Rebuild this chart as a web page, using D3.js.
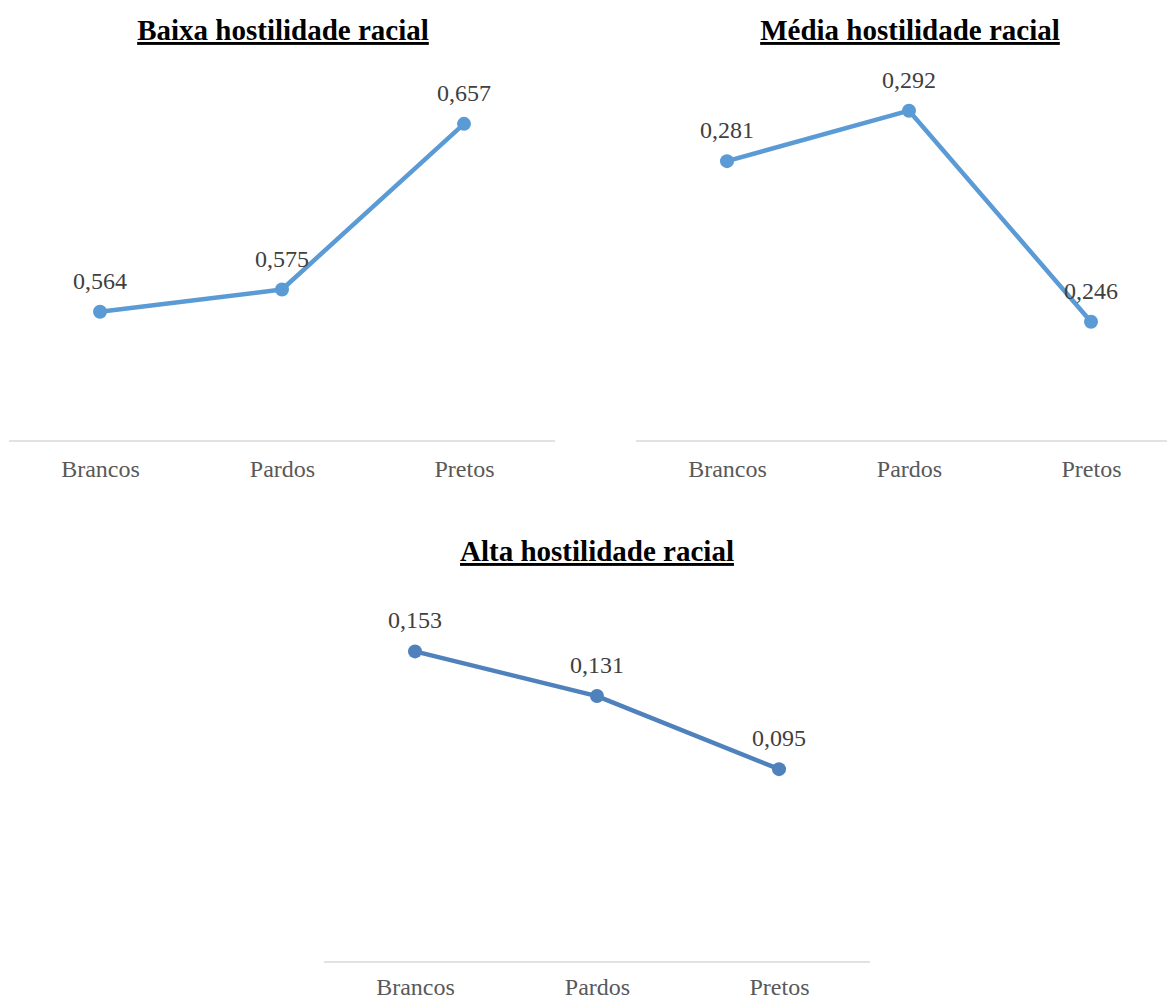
<!DOCTYPE html>
<html><head><meta charset="utf-8">
<script src="https://cdn.jsdelivr.net/npm/d3@7"></script>
<style>body{margin:0;background:#fff}svg{display:block}</style>
</head><body>
<svg id="c" width="1167" height="1001"></svg>
<script>
const categories = ["Brancos", "Pardos", "Pretos"];
const titles = ["Baixa hostilidade racial", "Média hostilidade racial", "Alta hostilidade racial"];
const baixaValues = [0.564, 0.575, 0.657];
const mediaValues = [0.281, 0.292, 0.246];
const altaValues = [0.153, 0.131, 0.095];
const yDomains = [[0.5, 0.7], [0.22, 0.30], [0, 0.2]];

const panels = [
  {title: titles[0], values: baixaValues, dom: yDomains[0], x0: 9, x1: 555, lineEnd: 555, axisY: 441, yTopPx: 37, titleX: 283, titleY: 40, color: "#5B9BD5", catY: 36},
  {title: titles[1], values: mediaValues, dom: yDomains[1], x0: 636, x1: 1182, lineEnd: 1167, axisY: 441, yTopPx: 74, titleX: 910, titleY: 40, color: "#5B9BD5", catY: 36},
  {title: titles[2], values: altaValues, dom: yDomains[2], x0: 324, x1: 870, lineEnd: 870, axisY: 962, yTopPx: 556, titleX: 597, titleY: 561, color: "#4F81BD", catY: 33}
];

const svg = d3.select("#c");
const serif = "'Liberation Serif','Times New Roman',serif";

panels.forEach(p => {
  const g = svg.append("g");
  const x = d3.scalePoint().domain(categories).range([p.x0, p.x1]).padding(0.5);
  const y = d3.scaleLinear().domain(p.dom).range([p.axisY, p.yTopPx]);

  g.append("text").attr("x", p.titleX).attr("y", p.titleY)
    .attr("text-anchor", "middle").attr("font-family", serif)
    .attr("font-size", 29).attr("font-weight", "bold").attr("fill", "#000")
    .attr("text-decoration", "underline").text(p.title);

  const ax = g.append("g").attr("transform", `translate(0,${p.axisY})`)
    .call(d3.axisBottom(x).tickSize(0));
  ax.select(".domain").attr("stroke", "#D9D9D9").attr("stroke-width", 1.5)
    .attr("d", `M${p.x0},0H${p.lineEnd}`);
  ax.selectAll(".tick text").attr("font-family", serif).attr("font-size", 24)
    .attr("fill", "#595959").attr("y", p.catY).attr("dy", 0);

  const data = categories.map((c, i) => ({c, v: p.values[i]}));
  const line = d3.line().x(d => x(d.c)).y(d => y(d.v));
  g.append("path").datum(data).attr("d", line).attr("fill", "none")
    .attr("stroke", p.color).attr("stroke-width", 4.5).attr("stroke-linejoin", "round");
  g.selectAll("circle").data(data).join("circle")
    .attr("cx", d => x(d.c)).attr("cy", d => y(d.v)).attr("r", 7).attr("fill", p.color);
  g.selectAll("text.lbl").data(data).join("text").attr("class", "lbl")
    .attr("x", d => x(d.c)).attr("y", d => y(d.v) - 23)
    .attr("text-anchor", "middle").attr("font-family", serif).attr("font-size", 24)
    .attr("fill", "#404040").text(d => d3.format(".3f")(d.v).replace(".", ","));
});
</script>
</body></html>
